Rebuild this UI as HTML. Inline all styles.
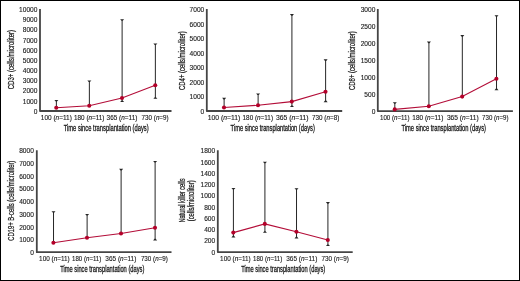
<!DOCTYPE html>
<html><head><meta charset="utf-8"><style>
html,body{margin:0;padding:0;background:#fff;}
svg{display:block;will-change:transform;filter:blur(0.25px);}
text{font-family:"Liberation Sans", sans-serif;fill:#1a1a1a;}
.tt{font-weight:normal;stroke:#1a1a1a;stroke-width:0.3;}
.ty{font-weight:normal;stroke:#1a1a1a;stroke-width:0.25;}
.tk{stroke:#1a1a1a;stroke-width:0.12;}
</style></head><body>
<svg width="520" height="281" viewBox="0 0 520 281">
<rect x="0" y="0" width="520" height="281" fill="#fff"/>
<g id="c1"><line x1="56.37" y1="100.5" x2="56.37" y2="107.75" stroke="#262626" stroke-width="1.0"/>
<path d="M54.37 99.90 H58.37 L56.97 101.50 H55.77 Z" fill="#262626"/>
<line x1="89.37" y1="81" x2="89.37" y2="105.75" stroke="#262626" stroke-width="1.0"/>
<path d="M87.37 80.40 H91.37 L89.97 82.00 H88.77 Z" fill="#262626"/>
<line x1="122.12" y1="19.75" x2="122.12" y2="101.5" stroke="#262626" stroke-width="1.0"/>
<path d="M120.12 19.15 H124.12 L122.72 20.75 H121.52 Z" fill="#262626"/>
<path d="M120.12 102.10 H124.12 L122.72 100.50 H121.52 Z" fill="#262626"/>
<line x1="155.37" y1="44" x2="155.37" y2="98.25" stroke="#262626" stroke-width="1.0"/>
<path d="M153.37 43.40 H157.37 L155.97 45.00 H154.77 Z" fill="#262626"/>
<path d="M153.37 98.85 H157.37 L155.97 97.25 H154.77 Z" fill="#262626"/>
<path d="M40 9 V111 H171.5" fill="none" stroke="#454545" stroke-width="1.8" stroke-linejoin="round"/>
<polyline points="56.25,107.75 89.25,105.75 122,98 155.25,85.25" fill="none" stroke="#b30d38" stroke-width="1.1"/>
<circle cx="56.25" cy="107.75" r="2.05" fill="#b30029"/>
<circle cx="89.25" cy="105.75" r="2.05" fill="#b30029"/>
<circle cx="122" cy="98" r="2.05" fill="#b30029"/>
<circle cx="155.25" cy="85.25" r="2.05" fill="#b30029"/>
<text x="37.45" y="113.71" text-anchor="end" font-size="6.6" class="tk">0</text>
<text x="37.45" y="103.55" text-anchor="end" font-size="6.6" class="tk">1000</text>
<text x="37.45" y="93.38" text-anchor="end" font-size="6.6" class="tk">2000</text>
<text x="37.45" y="83.22" text-anchor="end" font-size="6.6" class="tk">3000</text>
<text x="37.45" y="73.05" text-anchor="end" font-size="6.6" class="tk">4000</text>
<text x="37.45" y="62.89" text-anchor="end" font-size="6.6" class="tk">5000</text>
<text x="37.45" y="52.72" text-anchor="end" font-size="6.6" class="tk">6000</text>
<text x="37.45" y="42.56" text-anchor="end" font-size="6.6" class="tk">7000</text>
<text x="37.45" y="32.39" text-anchor="end" font-size="6.6" class="tk">8000</text>
<text x="37.45" y="22.23" text-anchor="end" font-size="6.6" class="tk">9000</text>
<text x="37.45" y="12.06" text-anchor="end" font-size="6.6" class="tk">10000</text>
<text x="40.80" y="119.64" font-size="6.4" class="tk" textLength="31.00" lengthAdjust="spacingAndGlyphs">100 (<tspan font-style="italic">n</tspan>=11)</text>
<text x="74.10" y="119.64" font-size="6.4" class="tk" textLength="30.30" lengthAdjust="spacingAndGlyphs">180 (<tspan font-style="italic">n</tspan>=11)</text>
<text x="106.60" y="119.64" font-size="6.4" class="tk" textLength="30.80" lengthAdjust="spacingAndGlyphs">365 (<tspan font-style="italic">n</tspan>=11)</text>
<text x="141.60" y="119.64" font-size="6.4" class="tk" textLength="27.00" lengthAdjust="spacingAndGlyphs">730 (<tspan font-style="italic">n</tspan>=9)</text>
<text x="63.70" y="130.90" font-size="8.3" class="tt" textLength="85.00" lengthAdjust="spacingAndGlyphs">Time since transplantation (days)</text>
<text transform="translate(13.60 89.30) rotate(-90)" x="0" y="0" font-size="8.4" class="ty" textLength="59.30" lengthAdjust="spacingAndGlyphs">CD3+ (cells/microliter)</text></g>
<g id="c2"><line x1="224.12" y1="98.4" x2="224.12" y2="107.5" stroke="#262626" stroke-width="1.0"/>
<path d="M222.12 97.80 H226.12 L224.72 99.40 H223.52 Z" fill="#262626"/>
<line x1="258.12" y1="94" x2="258.12" y2="105.2" stroke="#262626" stroke-width="1.0"/>
<path d="M256.12 93.40 H260.12 L258.72 95.00 H257.52 Z" fill="#262626"/>
<line x1="291.92" y1="14.7" x2="291.92" y2="106.5" stroke="#262626" stroke-width="1.0"/>
<path d="M289.92 14.10 H293.92 L292.52 15.70 H291.32 Z" fill="#262626"/>
<path d="M289.92 107.10 H293.92 L292.52 105.50 H291.32 Z" fill="#262626"/>
<line x1="325.62" y1="59.9" x2="325.62" y2="101.6" stroke="#262626" stroke-width="1.0"/>
<path d="M323.62 59.30 H327.62 L326.22 60.90 H325.02 Z" fill="#262626"/>
<path d="M323.62 102.20 H327.62 L326.22 100.60 H325.02 Z" fill="#262626"/>
<path d="M206.8 9 V111 H342.2" fill="none" stroke="#454545" stroke-width="1.8" stroke-linejoin="round"/>
<polyline points="224,107.5 258,105.2 291.8,101.6 325.5,91.7" fill="none" stroke="#b30d38" stroke-width="1.1"/>
<circle cx="224" cy="107.5" r="2.05" fill="#b30029"/>
<circle cx="258" cy="105.2" r="2.05" fill="#b30029"/>
<circle cx="291.8" cy="101.6" r="2.05" fill="#b30029"/>
<circle cx="325.5" cy="91.7" r="2.05" fill="#b30029"/>
<text x="204.25" y="113.61" text-anchor="end" font-size="6.6" class="tk">0</text>
<text x="204.25" y="99.09" text-anchor="end" font-size="6.6" class="tk">1000</text>
<text x="204.25" y="84.58" text-anchor="end" font-size="6.6" class="tk">2000</text>
<text x="204.25" y="70.06" text-anchor="end" font-size="6.6" class="tk">3000</text>
<text x="204.25" y="55.55" text-anchor="end" font-size="6.6" class="tk">4000</text>
<text x="204.25" y="41.03" text-anchor="end" font-size="6.6" class="tk">5000</text>
<text x="204.25" y="26.51" text-anchor="end" font-size="6.6" class="tk">6000</text>
<text x="204.25" y="12.00" text-anchor="end" font-size="6.6" class="tk">7000</text>
<text x="207.80" y="119.74" font-size="6.4" class="tk" textLength="32.60" lengthAdjust="spacingAndGlyphs">100 (<tspan font-style="italic">n</tspan>=11)</text>
<text x="242.60" y="119.74" font-size="6.4" class="tk" textLength="30.40" lengthAdjust="spacingAndGlyphs">180 (<tspan font-style="italic">n</tspan>=11)</text>
<text x="276.00" y="119.74" font-size="6.4" class="tk" textLength="32.60" lengthAdjust="spacingAndGlyphs">365 (<tspan font-style="italic">n</tspan>=11)</text>
<text x="312.00" y="119.74" font-size="6.4" class="tk" textLength="27.30" lengthAdjust="spacingAndGlyphs">730 (<tspan font-style="italic">n</tspan>=8)</text>
<text x="230.60" y="130.90" font-size="8.3" class="tt" textLength="84.20" lengthAdjust="spacingAndGlyphs">Time since transplantation (days)</text>
<text transform="translate(184.60 90.00) rotate(-90)" x="0" y="0" font-size="8.4" class="ty" textLength="58.75" lengthAdjust="spacingAndGlyphs">CD4+ (cells/microliter)</text></g>
<g id="c3"><line x1="394.82" y1="102.8" x2="394.82" y2="109.4" stroke="#262626" stroke-width="1.0"/>
<path d="M392.82 102.20 H396.82 L395.42 103.80 H394.22 Z" fill="#262626"/>
<line x1="428.92" y1="42.2" x2="428.92" y2="106.3" stroke="#262626" stroke-width="1.0"/>
<path d="M426.92 41.60 H430.92 L429.52 43.20 H428.32 Z" fill="#262626"/>
<line x1="462.32" y1="35.7" x2="462.32" y2="96.6" stroke="#262626" stroke-width="1.0"/>
<path d="M460.32 35.10 H464.32 L462.92 36.70 H461.72 Z" fill="#262626"/>
<line x1="496.52" y1="15.8" x2="496.52" y2="89.6" stroke="#262626" stroke-width="1.0"/>
<path d="M494.52 15.20 H498.52 L497.12 16.80 H495.92 Z" fill="#262626"/>
<path d="M494.52 90.20 H498.52 L497.12 88.60 H495.92 Z" fill="#262626"/>
<path d="M377.8 9 V111.1 H512.9" fill="none" stroke="#454545" stroke-width="1.8" stroke-linejoin="round"/>
<polyline points="394.7,109.4 428.8,106.3 462.2,96.6 496.4,78.8" fill="none" stroke="#b30d38" stroke-width="1.1"/>
<circle cx="394.7" cy="109.4" r="2.05" fill="#b30029"/>
<circle cx="428.8" cy="106.3" r="2.05" fill="#b30029"/>
<circle cx="462.2" cy="96.6" r="2.05" fill="#b30029"/>
<circle cx="496.4" cy="78.8" r="2.05" fill="#b30029"/>
<text x="375.35" y="113.66" text-anchor="end" font-size="6.6" class="tk">0</text>
<text x="375.35" y="96.77" text-anchor="end" font-size="6.6" class="tk">500</text>
<text x="375.35" y="79.88" text-anchor="end" font-size="6.6" class="tk">1000</text>
<text x="375.35" y="62.99" text-anchor="end" font-size="6.6" class="tk">1500</text>
<text x="375.35" y="46.10" text-anchor="end" font-size="6.6" class="tk">2000</text>
<text x="375.35" y="29.21" text-anchor="end" font-size="6.6" class="tk">2500</text>
<text x="375.35" y="12.32" text-anchor="end" font-size="6.6" class="tk">3000</text>
<text x="380.00" y="119.74" font-size="6.4" class="tk" textLength="29.60" lengthAdjust="spacingAndGlyphs">100 (<tspan font-style="italic">n</tspan>=11)</text>
<text x="412.30" y="119.74" font-size="6.4" class="tk" textLength="31.00" lengthAdjust="spacingAndGlyphs">180 (<tspan font-style="italic">n</tspan>=11)</text>
<text x="446.90" y="119.74" font-size="6.4" class="tk" textLength="31.80" lengthAdjust="spacingAndGlyphs">365 (<tspan font-style="italic">n</tspan>=11)</text>
<text x="482.10" y="119.74" font-size="6.4" class="tk" textLength="26.40" lengthAdjust="spacingAndGlyphs">730 (<tspan font-style="italic">n</tspan>=9)</text>
<text x="401.50" y="130.90" font-size="8.3" class="tt" textLength="84.50" lengthAdjust="spacingAndGlyphs">Time since transplantation (days)</text>
<text transform="translate(355.10 90.00) rotate(-90)" x="0" y="0" font-size="8.4" class="ty" textLength="58.75" lengthAdjust="spacingAndGlyphs">CD8+ (cells/microliter)</text></g>
<g id="c4"><line x1="53.52" y1="211.8" x2="53.52" y2="242.8" stroke="#262626" stroke-width="1.0"/>
<path d="M51.52 211.20 H55.52 L54.12 212.80 H52.92 Z" fill="#262626"/>
<line x1="87.12" y1="214.6" x2="87.12" y2="237.7" stroke="#262626" stroke-width="1.0"/>
<path d="M85.12 214.00 H89.12 L87.72 215.60 H86.52 Z" fill="#262626"/>
<line x1="121.12" y1="169.4" x2="121.12" y2="233.5" stroke="#262626" stroke-width="1.0"/>
<path d="M119.12 168.80 H123.12 L121.72 170.40 H120.52 Z" fill="#262626"/>
<line x1="155.12" y1="161.6" x2="155.12" y2="239.8" stroke="#262626" stroke-width="1.0"/>
<path d="M153.12 161.00 H157.12 L155.72 162.60 H154.52 Z" fill="#262626"/>
<path d="M153.12 240.40 H157.12 L155.72 238.80 H154.52 Z" fill="#262626"/>
<path d="M36.8 150.3 V252.2 H171.5" fill="none" stroke="#454545" stroke-width="1.8" stroke-linejoin="round"/>
<polyline points="53.4,242.8 87,237.7 121,233.5 155,227.8" fill="none" stroke="#b30d38" stroke-width="1.1"/>
<circle cx="53.4" cy="242.8" r="2.05" fill="#b30029"/>
<circle cx="87" cy="237.7" r="2.05" fill="#b30029"/>
<circle cx="121" cy="233.5" r="2.05" fill="#b30029"/>
<circle cx="155" cy="227.8" r="2.05" fill="#b30029"/>
<text x="33.85" y="255.11" text-anchor="end" font-size="6.6" class="tk">0</text>
<text x="33.85" y="242.36" text-anchor="end" font-size="6.6" class="tk">1000</text>
<text x="33.85" y="229.61" text-anchor="end" font-size="6.6" class="tk">2000</text>
<text x="33.85" y="216.86" text-anchor="end" font-size="6.6" class="tk">3000</text>
<text x="33.85" y="204.11" text-anchor="end" font-size="6.6" class="tk">4000</text>
<text x="33.85" y="191.36" text-anchor="end" font-size="6.6" class="tk">5000</text>
<text x="33.85" y="178.61" text-anchor="end" font-size="6.6" class="tk">6000</text>
<text x="33.85" y="165.86" text-anchor="end" font-size="6.6" class="tk">7000</text>
<text x="33.85" y="153.11" text-anchor="end" font-size="6.6" class="tk">8000</text>
<text x="39.10" y="260.94" font-size="6.4" class="tk" textLength="30.60" lengthAdjust="spacingAndGlyphs">100 (<tspan font-style="italic">n</tspan>=11)</text>
<text x="72.10" y="260.94" font-size="6.4" class="tk" textLength="29.20" lengthAdjust="spacingAndGlyphs">180 (<tspan font-style="italic">n</tspan>=11)</text>
<text x="105.30" y="260.94" font-size="6.4" class="tk" textLength="31.00" lengthAdjust="spacingAndGlyphs">365 (<tspan font-style="italic">n</tspan>=11)</text>
<text x="140.90" y="260.94" font-size="6.4" class="tk" textLength="27.00" lengthAdjust="spacingAndGlyphs">730 (<tspan font-style="italic">n</tspan>=9)</text>
<text x="60.20" y="271.90" font-size="8.3" class="tt" textLength="84.10" lengthAdjust="spacingAndGlyphs">Time since transplantation (days)</text>
<text transform="translate(13.90 240.80) rotate(-90)" x="0" y="0" font-size="8.4" class="ty" textLength="80.10" lengthAdjust="spacingAndGlyphs">CD19+ B-cells (cells/microliter)</text></g>
<g id="c5"><line x1="233.42" y1="188.5" x2="233.42" y2="236.8" stroke="#262626" stroke-width="1.0"/>
<path d="M231.42 187.90 H235.42 L234.02 189.50 H232.82 Z" fill="#262626"/>
<path d="M231.42 237.40 H235.42 L234.02 235.80 H232.82 Z" fill="#262626"/>
<line x1="264.92" y1="162.3" x2="264.92" y2="232.2" stroke="#262626" stroke-width="1.0"/>
<path d="M262.92 161.70 H266.92 L265.52 163.30 H264.32 Z" fill="#262626"/>
<path d="M262.92 232.80 H266.92 L265.52 231.20 H264.32 Z" fill="#262626"/>
<line x1="296.52" y1="188.8" x2="296.52" y2="237.8" stroke="#262626" stroke-width="1.0"/>
<path d="M294.52 188.20 H298.52 L297.12 189.80 H295.92 Z" fill="#262626"/>
<path d="M294.52 238.40 H298.52 L297.12 236.80 H295.92 Z" fill="#262626"/>
<line x1="327.92" y1="202.7" x2="327.92" y2="245.4" stroke="#262626" stroke-width="1.0"/>
<path d="M325.92 202.10 H329.92 L328.52 203.70 H327.32 Z" fill="#262626"/>
<path d="M325.92 246.00 H329.92 L328.52 244.40 H327.32 Z" fill="#262626"/>
<path d="M217.8 150.3 V252.1 H352.7" fill="none" stroke="#454545" stroke-width="1.8" stroke-linejoin="round"/>
<polyline points="233.3,232.6 264.8,223.9 296.4,231.8 327.8,240" fill="none" stroke="#b30d38" stroke-width="1.1"/>
<circle cx="233.3" cy="232.6" r="2.05" fill="#b30029"/>
<circle cx="264.8" cy="223.9" r="2.05" fill="#b30029"/>
<circle cx="296.4" cy="231.8" r="2.05" fill="#b30029"/>
<circle cx="327.8" cy="240" r="2.05" fill="#b30029"/>
<text x="215.15" y="254.71" text-anchor="end" font-size="6.6" class="tk">0</text>
<text x="215.15" y="243.45" text-anchor="end" font-size="6.6" class="tk">200</text>
<text x="215.15" y="232.20" text-anchor="end" font-size="6.6" class="tk">400</text>
<text x="215.15" y="220.94" text-anchor="end" font-size="6.6" class="tk">600</text>
<text x="215.15" y="209.69" text-anchor="end" font-size="6.6" class="tk">800</text>
<text x="215.15" y="198.43" text-anchor="end" font-size="6.6" class="tk">1000</text>
<text x="215.15" y="187.17" text-anchor="end" font-size="6.6" class="tk">1200</text>
<text x="215.15" y="175.92" text-anchor="end" font-size="6.6" class="tk">1400</text>
<text x="215.15" y="164.66" text-anchor="end" font-size="6.6" class="tk">1600</text>
<text x="215.15" y="153.41" text-anchor="end" font-size="6.6" class="tk">1800</text>
<text x="220.10" y="261.04" font-size="6.4" class="tk" textLength="30.60" lengthAdjust="spacingAndGlyphs">100 (<tspan font-style="italic">n</tspan>=11)</text>
<text x="253.10" y="261.04" font-size="6.4" class="tk" textLength="29.20" lengthAdjust="spacingAndGlyphs">180 (<tspan font-style="italic">n</tspan>=11)</text>
<text x="286.20" y="261.04" font-size="6.4" class="tk" textLength="31.10" lengthAdjust="spacingAndGlyphs">365 (<tspan font-style="italic">n</tspan>=11)</text>
<text x="321.50" y="261.04" font-size="6.4" class="tk" textLength="27.30" lengthAdjust="spacingAndGlyphs">730 (<tspan font-style="italic">n</tspan>=9)</text>
<text x="241.20" y="271.90" font-size="8.3" class="tt" textLength="84.00" lengthAdjust="spacingAndGlyphs">Time since transplantation (days)</text>
<text transform="translate(184.80 222.60) rotate(-90)" x="0" y="0" font-size="8.4" class="ty" textLength="44.10" lengthAdjust="spacingAndGlyphs">Natural killer cells</text>
<text transform="translate(194.00 221.30) rotate(-90)" x="0" y="0" font-size="8.4" class="ty" textLength="41.10" lengthAdjust="spacingAndGlyphs">(cells/microliter)</text></g>
<rect x="0.5" y="0.5" width="519" height="280" fill="none" stroke="#000" stroke-width="1"/>
</svg>
</body></html>
